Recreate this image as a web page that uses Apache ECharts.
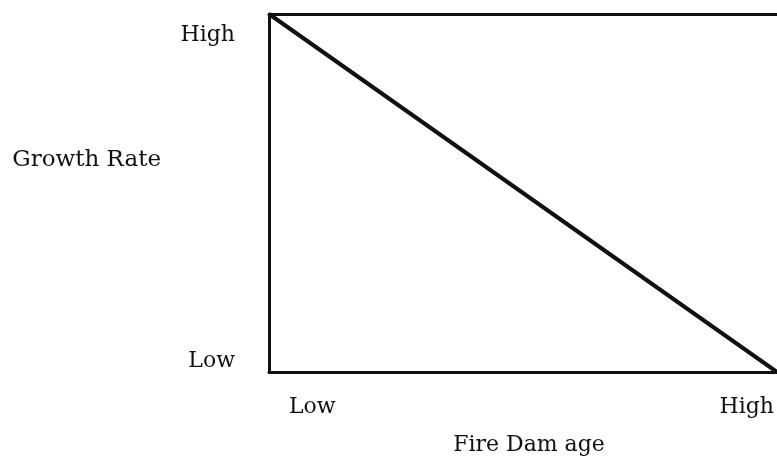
<!DOCTYPE html>
<html>
<head>
<meta charset="utf-8">
<script src="https://cdn.jsdelivr.net/npm/echarts@6/dist/echarts.min.js"></script>
<style>
  html, body { margin: 0; padding: 0; background: #fff; }
  #chart { width: 777px; height: 461px; }
</style>
</head>
<body>
<div id="chart"></div>
<script>
// values: a straight fall from high growth to low growth
const fireDamage = [0, 1];
const growthRate = [1, 0];
const xTickLabels = ['Low', 'High'];
const yTickLabels = ['Low', 'High'];

const font = 'DejaVu Serif';
const ink = '#111';

let points = fireDamage.map((x, i) => [x, growthRate[i]]);

let myChart = echarts.init(document.getElementById('chart'));
myChart.setOption({
    animation: false,
    // the box runs off the right edge of the picture
    grid: { left: 269, right: -3, top: 14, bottom: 89 },
    xAxis: [
        {
            type: 'value',
            min: 0,
            max: 1,
            interval: 1,
            name: 'Fire Dam age',
            nameLocation: 'middle',
            nameGap: 62,
            nameTextStyle: { fontFamily: font, fontSize: 22, color: ink, padding: [0, 0, 0, 12] },
            axisLine: { show: true, lineStyle: { color: ink, width: 3 } },
            axisTick: { show: false },
            splitLine: { show: false },
            axisLabel: {
                margin: 24,
                alignMinLabel: 'left',
                alignMaxLabel: 'right',
                formatter: (v) => v === 0 ? '{lo|' + xTickLabels[0] + '}' : '{hi|' + xTickLabels[1] + '}',
                rich: {
                    lo: { fontFamily: font, fontSize: 22, color: ink, padding: [0, 0, 0, 20] },
                    hi: { fontFamily: font, fontSize: 22, color: ink, padding: [0, 3, 0, 0] }
                }
            }
        },
        {
            type: 'value',
            position: 'top',
            min: 0,
            max: 1,
            axisLine: { show: true, lineStyle: { color: ink, width: 3 } },
            axisTick: { show: false },
            axisLabel: { show: false },
            splitLine: { show: false }
        }
    ],
    yAxis: {
        type: 'value',
        min: 0,
        max: 1,
        interval: 1,
        // the empty second line lifts the title above the middle of the axis
        name: 'Growth Rate\n ',
        nameLocation: 'middle',
        nameRotate: 0,
        nameGap: 108,
        nameTextStyle: {
            fontFamily: font, fontSize: 23, color: ink,
            align: 'right', verticalAlign: 'middle', lineHeight: 66
        },
        axisLine: { show: true, lineStyle: { color: ink, width: 3 } },
        axisTick: { show: false },
        splitLine: { show: false },
        axisLabel: {
            margin: 34,
            verticalAlignMinLabel: 'bottom',
            verticalAlignMaxLabel: 'top',
            formatter: (v) => v === 0 ? '{lo|' + yTickLabels[0] + '}' : '{hi|' + yTickLabels[1] + '}',
            rich: {
                lo: { fontFamily: font, fontSize: 22, color: ink },
                hi: { fontFamily: font, fontSize: 22, color: ink, padding: [10, 0, 0, 0] }
            }
        }
    },
    series: [
        {
            type: 'line',
            data: points,
            symbol: 'none',
            clip: false,
            lineStyle: { color: ink, width: 4 }
        }
    ]
});
</script>
</body>
</html>
